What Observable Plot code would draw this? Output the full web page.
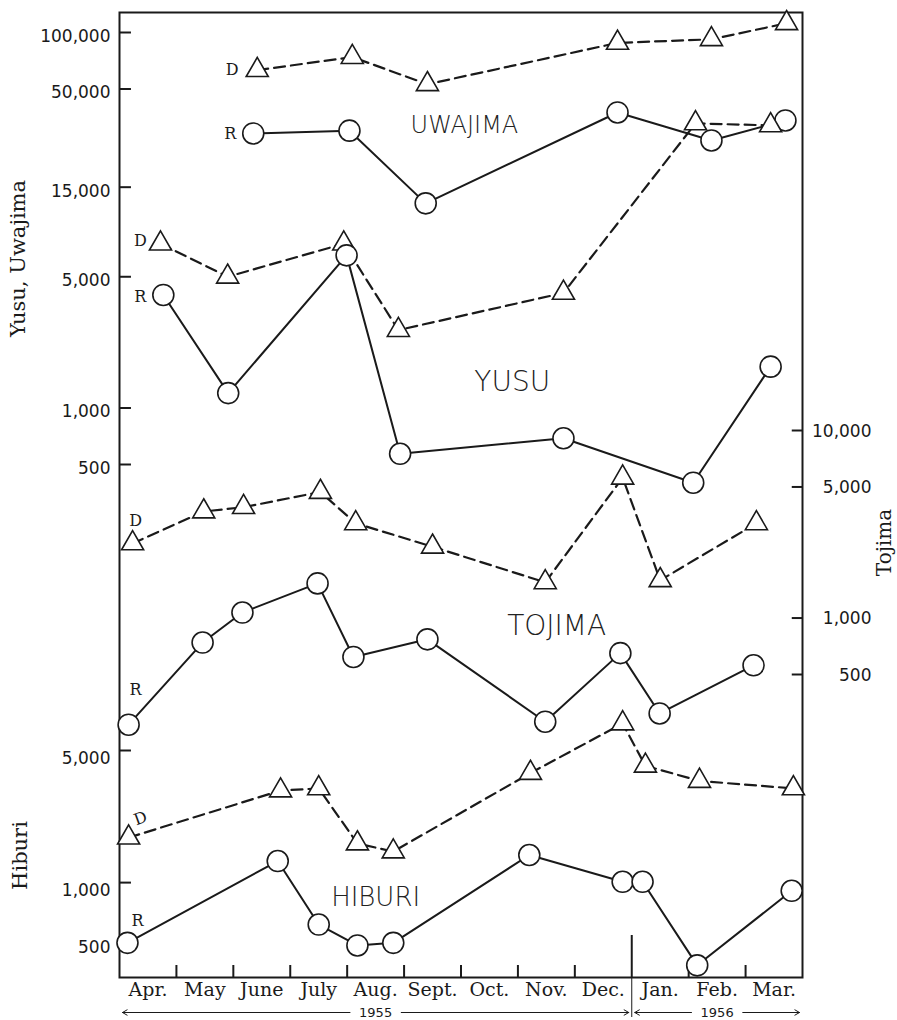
<!DOCTYPE html>
<html><head><meta charset="utf-8">
<script src="https://cdn.jsdelivr.net/npm/d3@7"></script>
<script src="https://cdn.jsdelivr.net/npm/@observablehq/plot@0.6"></script>
<style>
html,body{margin:0;padding:0;background:#fff;}
#chart{position:relative;width:897px;height:1020px;overflow:hidden;background:#fff;}
</style></head>
<body><div id="chart"></div>
<script>
// ---------- tick labels / categories ----------
const months = ["Apr.","May","June","July","Aug.","Sept.","Oct.","Nov.","Dec.","Jan.","Feb.","Mar."];
const monthTicks = [1,2,3,4,5,6,7,8,10,11];
const yearBreak = 9;
const years = [{label: "1955", start: 0, end: 9}, {label: "1956", start: 9, end: 12}];
const uwTicks = [500, 1000, 5000, 15000, 50000, 100000];
const tojTicks = [500, 1000, 5000, 10000];
const hibTicks = [500, 1000, 5000];

// ---------- series (x = month position from 1 Apr 1955) ----------
const uwajimaDx = [2.42, 4.09, 5.41, 8.75, 10.40, 11.72];
const uwajimaD  = [63000, 74000, 53000, 88000, 92000, 112000];
const uwajimaRx = [2.35, 4.04, 5.38, 8.75, 10.40, 11.70];
const uwajimaR  = [29000, 30000, 12300, 37500, 26600, 34000];

const yusuDx = [0.72, 1.90, 3.94, 4.90, 7.80, 10.12, 11.44];
const yusuD  = [7500, 5000, 7500, 2600, 4100, 32800, 32000];
const yusuRx = [0.77, 1.91, 3.99, 4.93, 7.80, 10.08, 11.44];
const yusuR  = [4000, 1200, 6500, 570, 690, 400, 1660];

const tojimaDx = [0.23, 1.48, 2.18, 3.53, 4.15, 5.50, 7.48, 8.84, 9.50, 11.19];
const tojimaD  = [2500, 3700, 3900, 4700, 3200, 2400, 1550, 5600, 1590, 3200];
const tojimaRx = [0.16, 1.46, 2.16, 3.48, 4.11, 5.41, 7.48, 8.80, 9.49, 11.14];
const tojimaR  = [270, 740, 1070, 1530, 620, 770, 280, 650, 310, 560];

const hiburiDx = [0.16, 2.83, 3.50, 4.18, 4.81, 7.22, 8.84, 9.24, 10.19, 11.84];
const hiburiD  = [1730, 3070, 3150, 1610, 1460, 3800, 6950, 4150, 3450, 3150];
const hiburiRx = [0.14, 2.78, 3.50, 4.18, 4.81, 7.20, 8.84, 9.19, 10.15, 11.81];
const hiburiR  = [480, 1300, 600, 465, 480, 1400, 1010, 1010, 365, 905];

// panel name annotations (data coordinates)
const namesA = [{name: "UWAJIMA", x: 6.06, y: 32000, size: 24}, {name: "YUSU", x: 6.9, y: 1370, size: 28}];
const namesB = [{name: "TOJIMA", x: 7.68, y: 912, size: 28}];
const namesC = [{name: "HIBURI", x: 4.5, y: 833, size: 26}];

// ---------- styling ----------
const W = 897, H = 1020;
const M = {top: 12, right: 95, bottom: 43, left: 119};
const INK = "#1a1a1a";
const serif = "DejaVu Serif, serif";
const sans = "DejaVu Sans, sans-serif";
const fmt = d3.format(",");

function pts(xs, ys) { return xs.map((x, i) => ({x, y: ys[i]})); }

function seriesMarks(Dx, D, Rx, R, off) {
  const d = pts(Dx, D), r = pts(Rx, R);
  const lab = {fontFamily: serif, fontSize: 16, fill: INK, textAnchor: "middle", lineAnchor: "middle"};
  return [
    Plot.line(d, {x: "x", y: "y", stroke: INK, strokeWidth: 2.2, strokeDasharray: "11,6"}),
    Plot.line(r, {x: "x", y: "y", stroke: INK, strokeWidth: 2}),
    Plot.dot(d, {x: "x", y: "y", symbol: "triangle", r: 8.2, fill: "white", stroke: INK, strokeWidth: 1.6}),
    Plot.dot(r, {x: "x", y: "y", symbol: "circle", r: 10.5, fill: "white", stroke: INK, strokeWidth: 1.6}),
    Plot.text([d[0]], {x: "x", y: "y", text: () => "D", dx: off.D[0], dy: off.D[1], rotate: off.D[2] || 0, ...lab}),
    Plot.text([r[0]], {x: "x", y: "y", text: () => "R", dx: off.R[0], dy: off.R[1], ...lab})
  ];
}

function nameMarks(names) {
  return Plot.text(names, {x: "x", y: "y", text: "name", fontSize: d => d.size, fontFamily: sans,
    fontWeight: 200, fill: "#222", textAnchor: "middle", lineAnchor: "middle", ariaLabel: "panel-name"});
}

const common = {
  width: W, height: H,
  marginTop: M.top, marginRight: M.right, marginBottom: M.bottom, marginLeft: M.left,
  x: {domain: [0, 12], axis: null}
};
const overlay = {background: "transparent", position: "absolute", left: "0px", top: "0px"};
const tickFont = {fontFamily: sans, fontSize: 17, fill: INK, lineAnchor: "middle"};

// ---------- Plot A: frame, x axis, Uwajima + Yusu ----------
const plotA = Plot.plot({
  ...common,
  y: {type: "log", domain: [500, 100000], range: [464, 32], axis: null},
  style: {background: "white", position: "absolute", left: "0px", top: "0px"},
  marks: [
    Plot.frame({stroke: INK, strokeWidth: 2}),
    Plot.ruleX(monthTicks, {x: d => d, insetTop: 953, stroke: INK, strokeWidth: 2}),
    Plot.ruleX([yearBreak], {x: d => d, insetTop: 923, stroke: INK, strokeWidth: 2}),
    Plot.ruleX([yearBreak], {x: d => d, insetTop: 965, insetBottom: -40, stroke: INK, strokeWidth: 1}),
    Plot.text(months, {x: (d, i) => i + 0.5, text: d => d, frameAnchor: "bottom", lineAnchor: "top", dy: 5,
      fontFamily: serif, fontSize: 19, fill: INK}),
    Plot.ruleY(uwTicks, {y: d => d, x1: 0, x2: 0.21, stroke: INK, strokeWidth: 2}),
    Plot.text(uwTicks, {y: d => d, x: 0, text: d => fmt(d), textAnchor: "end", dx: -9, dy: 4, ...tickFont}),
    Plot.text(["Yusu, Uwajima"], {text: d => d, frameAnchor: "top-left", dx: -101, dy: 246, rotate: -90,
      textAnchor: "middle", lineAnchor: "middle", fontFamily: serif, fontSize: 21, fill: INK}),
    ...seriesMarks(uwajimaDx, uwajimaD, uwajimaRx, uwajimaR, {D: [-25, 0], R: [-23, 0]}),
    ...seriesMarks(yusuDx, yusuD, yusuRx, yusuR, {D: [-20, -3], R: [-23, 2]}),
    nameMarks(namesA)
  ]
});

// ---------- Plot B: Tojima (right axis) ----------
const plotB = Plot.plot({
  ...common,
  y: {type: "log", domain: [500, 10000], range: [674, 430], axis: null},
  style: overlay,
  marks: [
    Plot.ruleY(tojTicks, {y: d => d, x1: 11.82, x2: 12, stroke: INK, strokeWidth: 2}),
    Plot.text(tojTicks, {y: d => d, x: 12, text: d => fmt(d), textAnchor: "end", dx: 69, dy: 1, ...tickFont}),
    Plot.text(["Tojima"], {text: d => d, frameAnchor: "top-right", dx: 82, dy: 530, rotate: -90,
      textAnchor: "middle", lineAnchor: "middle", fontFamily: serif, fontSize: 20, fill: INK}),
    ...seriesMarks(tojimaDx, tojimaD, tojimaRx, tojimaR, {D: [3, -23], R: [7, -35]}),
    nameMarks(namesB)
  ]
});

// ---------- Plot C: Hiburi ----------
const plotC = Plot.plot({
  ...common,
  y: {type: "log", domain: [500, 5000], range: [939, 750], axis: null},
  style: overlay,
  marks: [
    Plot.ruleY(hibTicks, {y: d => d, x1: 0, x2: 0.21, stroke: INK, strokeWidth: 2}),
    Plot.text(hibTicks, {y: d => d, x: 0, text: d => fmt(d), textAnchor: "end", dx: -9, dy: 8, ...tickFont}),
    Plot.text(["Hiburi"], {text: d => d, frameAnchor: "top-left", dx: -99, dy: 843, rotate: -90,
      textAnchor: "middle", lineAnchor: "middle", fontFamily: serif, fontSize: 21, fill: INK}),
    ...seriesMarks(hiburiDx, hiburiD, hiburiRx, hiburiR, {D: [12, -19, -20], R: [10, -22]}),
    nameMarks(namesC)
  ]
});

// ---------- Plot D: year spans below the month labels ----------
const yr = () => "year";
const mid = d => (d.start + d.end) / 2;
const plotD = Plot.plot({
  width: W, height: 40,
  marginTop: 24, marginBottom: 0, marginLeft: M.left, marginRight: M.right,
  x: {domain: [0, 12], axis: null},
  y: {type: "point", domain: ["year"], axis: null},
  style: {background: "transparent", position: "absolute", left: "0px", top: "980px"},
  marks: [
    Plot.arrow(years, {x1: d => mid(d) - 0.45, x2: "start", y1: yr, y2: yr, insetEnd: 3, headLength: 8, stroke: INK, strokeWidth: 1}),
    Plot.arrow(years, {x1: d => mid(d) + 0.45, x2: "end", y1: yr, y2: yr, insetEnd: 3, headLength: 8, stroke: INK, strokeWidth: 1}),
    Plot.text(years, {x: mid, y: yr, text: "label", fontFamily: sans, fontSize: 13, fill: INK})
  ]
});

const chart = document.getElementById("chart");
for (const p of [plotA, plotB, plotC, plotD]) {
  p.querySelectorAll('g[aria-label="panel-name"] text').forEach(t => t.style.letterSpacing = "5px");
  chart.appendChild(p);
}
</script>
</body></html>
